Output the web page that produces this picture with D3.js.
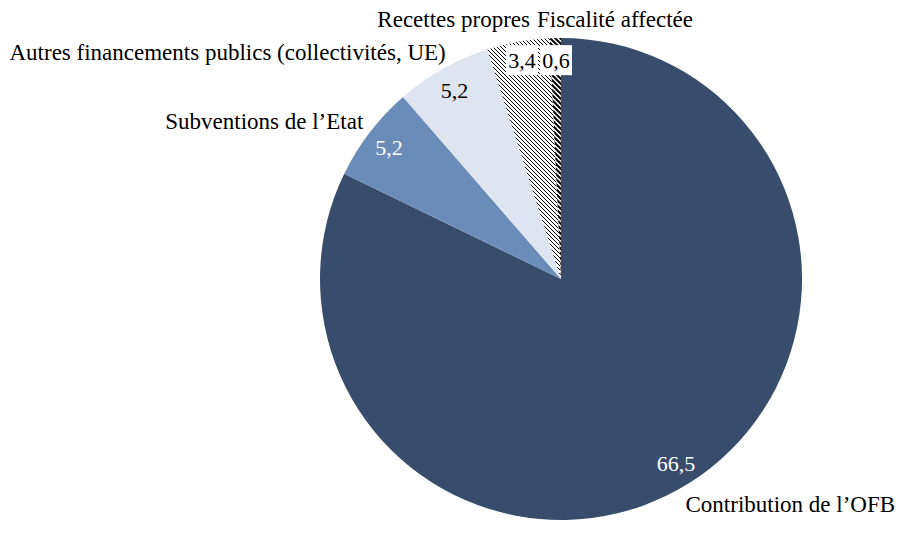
<!DOCTYPE html>
<html>
<head>
<meta charset="utf-8">
<script src="https://cdn.jsdelivr.net/npm/d3@7"></script>
<style>
  body { margin: 0; background: #fff; }
  svg text { font-family: "Liberation Serif", "Times New Roman", serif; }
</style>
</head>
<body>
<div id="chart"></div>
<script>
// data
var categories = ["Contribution de l\u2019OFB", "Subventions de l\u2019Etat",
                  "Autres financements publics (collectivit\u00e9s, UE)",
                  "Recettes propres", "Fiscalit\u00e9 affect\u00e9e"];
var values = [66.5, 5.2, 5.2, 3.4, 0.6];

var fills = ["#384d6c", "#6b8cb8", "#dee4f0", "url(#hatchThin)", "url(#hatchThick)"];
var valueColors = ["#fff", "#fff", "#000", "#000", "#000"];

var width = 908, height = 533,
    cx = 561, cy = 279, radius = 241;

var svg = d3.select("#chart").append("svg")
    .attr("width", width)
    .attr("height", height)
    .attr("font-family", "Liberation Serif");

// hatch patterns for the two small slices
var defs = svg.append("defs");
var p1 = defs.append("pattern")
    .attr("id", "hatchThin")
    .attr("patternUnits", "userSpaceOnUse")
    .attr("width", 4).attr("height", 4);
p1.append("rect").attr("width", 4).attr("height", 4).attr("fill", "#fff");
p1.append("path")
    .attr("d", "M-1,-1L5,5M-1,3L1,5M3,-1L5,1")
    .attr("stroke", "#000").attr("stroke-width", 1);

var p2 = defs.append("pattern")
    .attr("id", "hatchThick")
    .attr("patternUnits", "userSpaceOnUse")
    .attr("width", 5).attr("height", 5);
p2.append("rect").attr("width", 5).attr("height", 5).attr("fill", "#fff");
p2.append("path")
    .attr("d", "M-1,-1L6,6M-1,4L1,6M4,-1L6,1")
    .attr("stroke", "#000").attr("stroke-width", 2);

var pie = d3.pie().sort(null).value(function(d) { return d; });
var arcs = pie(values);

var arc = d3.arc().innerRadius(0).outerRadius(radius);
var valueArc = d3.arc().innerRadius(radius * 0.9).outerRadius(radius * 0.9);
var nameArc = d3.arc().innerRadius(radius * 1.06).outerRadius(radius * 1.06);

var g = svg.append("g")
    .attr("transform", "translate(" + cx + "," + cy + ")");

g.selectAll(".slice")
  .data(arcs)
  .enter().append("path")
    .attr("class", "slice")
    .attr("d", arc)
    .attr("fill", function(d, i) { return fills[i]; });

// value labels
var fmt = function(v) { return String(v).replace(".", ","); };
var vl = g.selectAll(".val")
  .data(arcs)
  .enter().append("g")
    .attr("class", "val");

vl.each(function(d, i) {
  var c = valueArc.centroid(d);
  d.lx = c[0]; d.ly = c[1];
});
// the two thin slices: put the labels side by side, left of the last one
var last = arcs[arcs.length - 1];
last.ly = last.ly - 2;
arcs[3].ly = last.ly;
arcs[3].lx = last.lx - 34;

vl.attr("transform", function(d) { return "translate(" + d.lx + "," + d.ly + ")"; });
vl.filter(function(d, i) { return i >= 3; })
  .append("rect")
    .attr("x", -16).attr("y", -15)
    .attr("width", 32).attr("height", 30)
    .attr("fill", "#fff");
vl.append("text")
    .attr("text-anchor", "middle")
    .attr("dy", "0.35em")
    .attr("font-size", 22)
    .attr("fill", function(d, i) { return valueColors[i]; })
    .text(function(d) { return fmt(d.data); });

// category labels
var names = g.selectAll(".name")
  .data(arcs)
  .enter().append("text")
    .attr("class", "name")
    .attr("dy", "0.35em")
    .attr("font-size", 23)
    .text(function(d, i) { return categories[i]; });

names.each(function(d, i) {
  var c = nameArc.centroid(d);
  var mid = (d.startAngle + d.endAngle) / 2;
  d.nx = c[0]; d.ny = c[1];
  d.anchor = mid < Math.PI ? "start" : "end";
});
// hand tweaks so labels sit where the original put them
arcs[0].nx -= 11; arcs[0].ny += 8;
arcs[1].nx += 5; arcs[1].ny -= 3;
arcs[2].nx += 10; arcs[2].ny -= 4;
arcs[3].nx = -31; arcs[3].ny = -radius - 19; arcs[3].anchor = "end";
last.nx = -24; last.ny = -radius - 19; last.anchor = "start";

names
    .attr("x", function(d) { return d.nx; })
    .attr("y", function(d) { return d.ny; })
    .attr("text-anchor", function(d) { return d.anchor; });
</script>
</body>
</html>
